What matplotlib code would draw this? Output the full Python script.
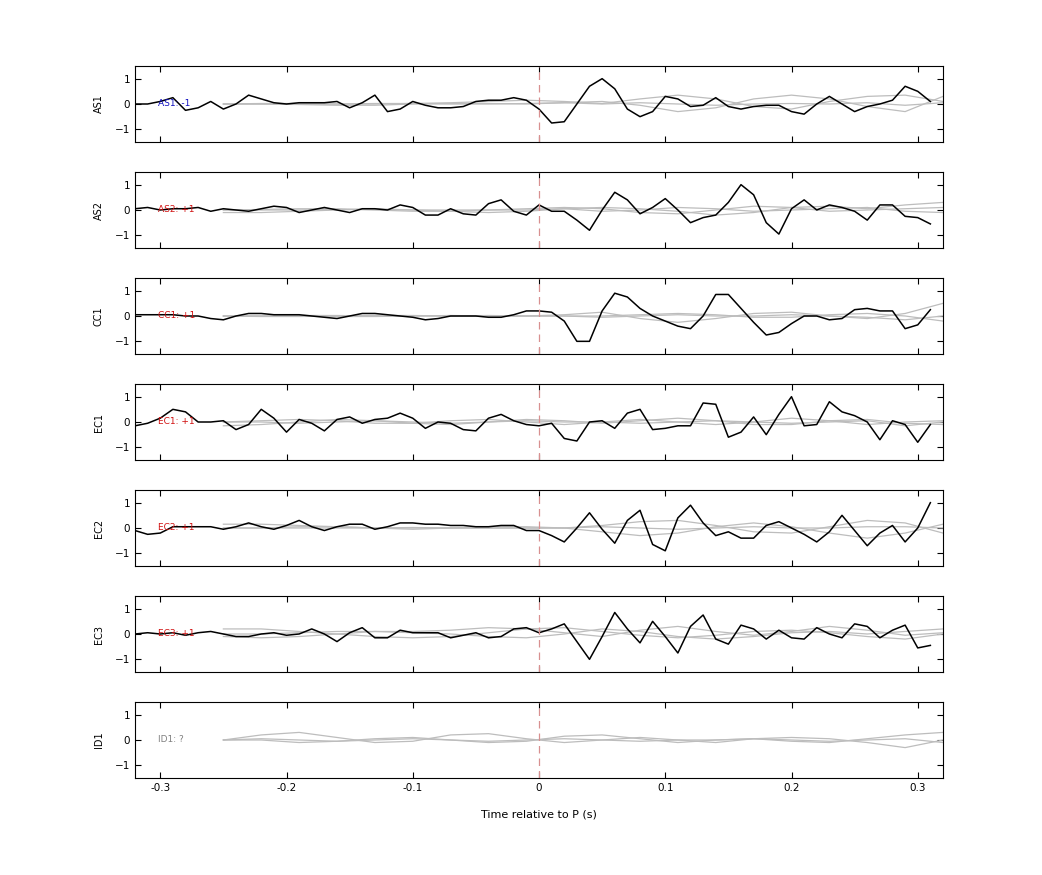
import numpy as np
import matplotlib
matplotlib.use("Agg")
import matplotlib.pyplot as plt

stations = ["AS1", "AS2", "CC1", "EC1", "EC2", "EC3", "ID1"]
labels = ["AS1: -1", "AS2: +1", "CC1: +1", "EC1: +1", "EC2: +1", "EC3: +1", "ID1: ?"]
label_colors = ["#1010c0", "#d01010", "#d01010", "#d01010", "#d01010", "#d01010", "#808080"]

AS1 = [0, 0, 0.1, 0.25, -0.25, -0.15, 0.1, -0.2, 0, 0.35, 0.2, 0.05, 0.0, 0.05, 0.05, 0.05,
       0.1, -0.15, 0.05, 0.35, -0.3, -0.2, 0.1, -0.05, -0.15, -0.15, -0.1, 0.1, 0.15, 0.15, 0.25, 0.15,
       -0.2, -0.75, -0.7, 0, 0.7, 1.0, 0.6, -0.2, -0.5, -0.3, 0.3, 0.2, -0.1, -0.05, 0.25, -0.1,
       -0.2, -0.1, -0.05, -0.05, -0.3, -0.4, 0, 0.3, 0, -0.3, -0.1, 0, 0.15, 0.7, 0.5, 0.1]
AS2 = [0.05, 0.1, 0, 0.05, 0.05, 0.1, -0.05, 0.05, 0, -0.05, 0.05, 0.15, 0.1, -0.1, 0, 0.1,
       0, -0.1, 0.05, 0.05, 0, 0.2, 0.1, -0.2, -0.2, 0.05, -0.15, -0.2, 0.25, 0.4, -0.05, -0.2,
       0.2, -0.05, -0.05, -0.4, -0.8, 0, 0.7, 0.4, -0.15, 0.1, 0.45, 0, -0.5, -0.3, -0.2, 0.3,
       1.0, 0.6, -0.5, -0.95, 0.05, 0.4, 0, 0.2, 0.1, -0.05, -0.4, 0.2, 0.2, -0.25, -0.3, -0.55]
CC1 = [0.05, 0.05, 0.05, 0.05, 0, 0, -0.1, -0.15, 0, 0.1, 0.1, 0.05, 0.05, 0.05, 0, -0.05,
       -0.1, 0, 0.1, 0.1, 0.05, 0, -0.05, -0.15, -0.1, 0, 0, 0, -0.05, -0.05, 0.05, 0.2,
       0.2, 0.15, -0.2, -1.0, -1.0, 0.2, 0.9, 0.75, 0.3, 0, -0.2, -0.4, -0.5, 0, 0.85, 0.85,
       0.3, -0.25, -0.75, -0.65, -0.3, 0, 0, -0.15, -0.1, 0.25, 0.3, 0.2, 0.2, -0.5, -0.35, 0.25]
EC1 = [-0.15, -0.05, 0.15, 0.5, 0.4, 0, 0, 0.05, -0.3, -0.1, 0.5, 0.15, -0.4, 0.1, -0.05, -0.35,
       0.1, 0.2, -0.05, 0.1, 0.15, 0.35, 0.15, -0.25, 0, -0.05, -0.3, -0.35, 0.15, 0.3, 0.05, -0.1,
       -0.15, -0.05, -0.65, -0.75, 0, 0.05, -0.25, 0.35, 0.5, -0.3, -0.25, -0.15, -0.15, 0.75, 0.7, -0.6,
       -0.4, 0.2, -0.5, 0.3, 1.0, -0.15, -0.1, 0.8, 0.4, 0.25, 0, -0.7, 0.05, -0.1, -0.8, -0.1]
EC2 = [-0.1, -0.25, -0.2, 0.05, 0.05, 0.05, 0.05, -0.05, 0.05, 0.2, 0.05, -0.05, 0.1, 0.3, 0.05, -0.1,
       0.05, 0.15, 0.15, -0.05, 0.05, 0.2, 0.2, 0.15, 0.15, 0.1, 0.1, 0.05, 0.05, 0.1, 0.1, -0.1,
       -0.1, -0.3, -0.55, 0, 0.6, -0.05, -0.6, 0.3, 0.7, -0.65, -0.9, 0.4, 0.9, 0.2, -0.3, -0.15,
       -0.4, -0.4, 0.1, 0.25, 0, -0.25, -0.55, -0.15, 0.5, -0.1, -0.7, -0.2, 0.1, -0.55, 0, 1.0]
EC3 = [0, 0.05, 0, 0.05, -0.05, 0.05, 0.1, 0, -0.1, -0.1, 0, 0.05, -0.05, 0, 0.2, 0,
       -0.3, 0.05, 0.25, -0.15, -0.15, 0.15, 0.05, 0.05, 0.05, -0.15, -0.05, 0.05, -0.15, -0.1, 0.2, 0.25,
       0.05, 0.2, 0.4, -0.3, -1.0, -0.1, 0.85, 0.2, -0.35, 0.5, -0.1, -0.75, 0.3, 0.75, -0.2, -0.4,
       0.35, 0.2, -0.2, 0.15, -0.15, -0.2, 0.25, 0, -0.15, 0.4, 0.3, -0.15, 0.15, 0.35, -0.55, -0.45]
black = [AS1, AS2, CC1, EC1, EC2, EC3, None]

# gray synthetic traces (sampled every 0.03 s from -0.25 s)
gray = [
    [[0, 0, -0.02, -0.05, -0.05, 0, 0.02, 0.02, 0, 0.05, 0.1, -0.05, -0.3, -0.15, 0.2, 0.35, 0.2, -0.1, -0.3, 0.3],
     [0, 0.02, 0.02, 0, 0, 0.02, 0.05, 0.1, 0.15, 0.1, 0.02, 0.2, 0.35, 0.2, -0.1, -0.2, 0.1, 0.3, 0.35, 0.1],
     [0, 0, 0, 0, 0.02, 0.02, 0, 0, 0.02, 0.05, 0, 0.05, 0, -0.05, 0, 0.02, 0, 0.05, -0.05, 0.05]],
    [[-0.1, -0.1, -0.05, 0, 0.05, 0, -0.05, -0.1, -0.05, 0.05, 0.1, 0.05, -0.05, -0.2, -0.1, 0.1, 0.15, 0.05, 0.2, 0.3],
     [0, 0.02, 0.05, 0.05, 0, -0.05, -0.05, 0, 0.05, 0.1, 0.05, -0.1, -0.15, 0, 0.15, 0.1, -0.05, 0, 0.05, 0.1],
     [0, 0, 0, 0.02, 0.02, 0, 0, 0, 0, 0.05, -0.05, 0, 0.1, 0.05, -0.05, 0, 0.05, 0.1, -0.05, -0.1]],
    [[0, 0, 0, -0.02, -0.02, 0, 0.02, 0, 0, 0.05, 0.15, -0.1, -0.25, -0.1, 0.1, 0.15, 0, -0.1, 0.1, 0.5],
     [0, 0, 0.02, 0.02, 0, 0, 0, 0.02, 0, 0, 0, 0.05, 0.1, 0.05, -0.05, -0.05, 0.05, 0.1, 0, -0.2],
     [0, -0.02, -0.02, 0, 0.02, 0.02, 0, -0.02, 0, 0, -0.05, 0, 0.05, 0, 0, 0.05, 0, -0.05, -0.15, 0]],
    [[-0.15, -0.1, 0, 0.1, 0.05, -0.05, -0.1, 0, 0.1, 0.05, -0.05, 0.05, 0.15, 0.05, -0.1, -0.1, 0.05, 0.1, -0.05, -0.1],
     [0, 0.05, 0.1, 0.05, -0.05, -0.05, 0.05, 0.1, 0, -0.1, 0, 0.1, 0, -0.1, 0, 0.15, 0.05, -0.1, 0, 0.05],
     [0, 0, -0.05, 0, 0.05, 0, -0.05, 0, 0.05, 0, 0, -0.05, 0, 0.05, 0, -0.05, 0, 0.05, -0.15, 0]],
    [[0.15, 0.15, 0.1, 0.05, 0, -0.05, 0, 0.05, 0.05, 0, 0.1, 0.25, 0.3, 0.1, -0.15, -0.2, 0.05, 0.3, 0.2, -0.2],
     [0, 0, 0.05, 0.05, 0, 0, 0, 0, 0, 0, -0.15, -0.3, -0.2, 0.05, 0.2, 0.05, -0.2, -0.4, -0.2, 0.15],
     [0, 0, 0, 0, 0, 0.02, 0, 0, 0, 0, 0.05, 0, -0.05, 0, 0.05, 0, 0, 0.05, 0.05, 0]],
    [[0.2, 0.2, 0.1, 0, -0.1, -0.15, -0.1, 0.05, 0.2, 0.25, 0.1, -0.05, -0.15, -0.05, 0.1, 0.15, 0.05, -0.1, -0.2, 0],
     [0, 0, 0.05, 0.1, 0.1, 0.1, 0.15, 0.25, 0.2, 0.05, -0.1, 0.15, 0.3, 0.1, -0.05, 0.1, 0.3, 0.15, -0.05, 0.05],
     [-0.1, -0.15, -0.1, 0, 0.1, 0.05, 0, -0.1, -0.15, 0, 0.2, 0.1, -0.1, -0.2, -0.1, 0.05, 0.1, 0, 0.1, 0.2]],
    [[0, 0.2, 0.3, 0.1, -0.1, -0.05, 0.2, 0.25, 0.05, -0.1, 0, 0.1, 0, -0.1, 0.05, 0.1, 0.05, -0.1, -0.3, 0],
     [0, 0, -0.1, -0.05, 0.05, 0.1, 0, -0.1, -0.05, 0.15, 0.2, 0.05, -0.1, 0, 0.05, -0.05, -0.1, 0.05, 0.2, 0.3],
     [0, 0.05, 0, -0.05, 0, 0.05, 0, -0.05, 0, 0.05, 0, -0.05, 0, 0, 0.05, 0, -0.05, 0, 0.05, -0.1]],
]

plt.rcParams['font.family'] = ['DejaVu Sans']
fig = plt.figure(figsize=(10.42, 8.75), dpi=100)
W, H = 1042, 875
for i, st in enumerate(stations):
    bottom = (H - 142 - 106 * i) / H
    ax = fig.add_axes([135 / W, bottom, 808 / W, 76 / H])
    for g in gray[i]:
        tg = -0.25 + 0.03 * np.arange(len(g))
        ax.plot(tg, g, color="#bdbdbd", lw=0.9)
    if black[i] is not None:
        tb = -0.32 + 0.01 * np.arange(len(black[i]))
        ax.plot(tb, black[i], color="black", lw=1.1)
    ax.axvline(0, color="#d89090", lw=0.9, ls=(0, (6, 4)))
    ax.text(-0.302, 0, labels[i], color=label_colors[i], fontsize=6.5, va="center", ha="left")
    ax.set_xlim(-0.32, 0.32)
    ax.set_ylim(-1.5, 1.5)
    ax.set_yticks([-1, 0, 1])
    ax.set_xticks([-0.3, -0.2, -0.1, 0, 0.1, 0.2, 0.3])
    ax.tick_params(direction="in", top=True, right=True, labelsize=7.5, length=4)
    ax.set_ylabel(st, fontsize=7, labelpad=8)
    if i < len(stations) - 1:
        ax.set_xticklabels([])
    else:
        ax.set_xticklabels(["-0.3", "-0.2", "-0.1", "0", "0.1", "0.2", "0.3"])
        ax.set_xlabel("Time relative to P (s)", fontsize=8, labelpad=12)
    for s in ax.spines.values():
        s.set_linewidth(0.8)

fig.savefig("out.png", dpi=100)
